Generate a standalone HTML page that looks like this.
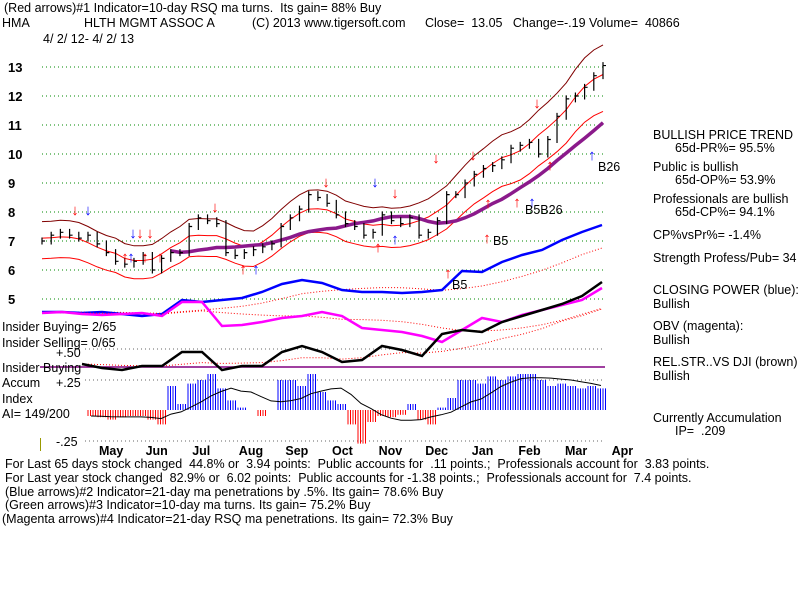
<!DOCTYPE html>
<html><head><meta charset="utf-8"><style>
body{margin:0;background:#fff;}
svg{display:block;font-family:"Liberation Sans",sans-serif;}
.t{font-size:12.5px;fill:#000;white-space:pre;}
</style></head><body>
<svg id="c" width="800" height="600" viewBox="0 0 800 600" xmlns="http://www.w3.org/2000/svg" xml:space="preserve">
<defs>
<pattern id="pb" width="2.5" height="4" patternUnits="userSpaceOnUse"><rect x="0" width="1" height="4" fill="#0000ff"/></pattern>
<pattern id="pr" width="2.5" height="4" patternUnits="userSpaceOnUse"><rect x="0" width="1" height="4" fill="#ff0000"/></pattern>
</defs>
<text class="t" x="4" y="12">(Red arrows)#1 Indicator=10-day RSQ ma turns.  Its gain= 88% Buy</text>
<text class="t" x="2" y="27">HMA</text>
<text class="t" x="84" y="27">HLTH MGMT ASSOC A</text>
<text class="t" x="252" y="27">(C) 2013 www.tigersoft.com</text>
<text class="t" x="425" y="27">Close=  13.05   Change=-.19 Volume=  40866</text>
<text class="t" x="43" y="43">4/ 2/ 12- 4/ 2/ 13</text>
<g id="grid"></g><g id="marks"></g>
<g>
<text class="t" x="653" y="139">BULLISH PRICE TREND</text>
<text class="t" x="675" y="152">65d-PR%= 95.5%</text>
<text class="t" x="653" y="171">Public is bullish</text>
<text class="t" x="675" y="184">65d-OP%= 53.9%</text>
<text class="t" x="653" y="203">Professionals are bullish</text>
<text class="t" x="675" y="216">65d-CP%= 94.1%</text>
<text class="t" x="653" y="239">CP%vsPr%= -1.4%</text>
<text class="t" x="653" y="262">Strength Profess/Pub= 34</text>
<text class="t" x="653" y="294">CLOSING POWER (blue):</text>
<text class="t" x="653" y="308">Bullish</text>
<text class="t" x="653" y="330">OBV (magenta):</text>
<text class="t" x="653" y="344">Bullish</text>
<text class="t" x="653" y="366">REL.STR..VS DJI (brown)</text>
<text class="t" x="653" y="380">Bullish</text>
<text class="t" x="653" y="422">Currently Accumulation</text>
<text class="t" x="675" y="435">IP=  .209</text>
</g>
<g>
<text class="t" x="2" y="331">Insider Buying= 2/65</text>
<text class="t" x="2" y="347">Insider Selling= 0/65</text>
<text class="t" x="56" y="357">+.50</text>
<text class="t" x="2" y="372">Insider Buying</text>
<text class="t" x="2" y="387">Accum</text>
<text class="t" x="56" y="387">+.25</text>
<text class="t" x="2" y="403">Index</text>
<text class="t" x="2" y="418">AI= 149/200</text>
<text class="t" x="56" y="446">-.25</text>
<rect x="40" y="438" width="1" height="13" fill="#999900"/>
</g>
<g>
<text class="t" x="5" y="468">For Last 65 days stock changed  44.8% or  3.94 points:  Public accounts for  .11 points.;  Professionals account for  3.83 points.</text>
<text class="t" x="5" y="482">For Last year stock changed  82.9% or  6.02 points:  Public accounts for -1.38 points.;  Professionals account for  7.4 points.</text>
<text class="t" x="5" y="496">(Blue arrows)#2 Indicator=21-day ma penetrations by .5%. Its gain= 78.6% Buy</text>
<text class="t" x="5" y="509">(Green arrows)#3 Indicator=10-day ma turns. Its gain= 75.2% Buy</text>
<text class="t" x="2" y="523">(Magenta arrows)#4 Indicator=21-day RSQ ma penetrations. Its gain= 72.3% Buy</text>
</g>
</svg>
<script>
const priceLevels=[13,12,11,10,9,8,7,6,5];
const months=["May","Jun","Jul","Aug","Sep","Oct","Nov","Dec","Jan","Feb","Mar","Apr"];
const closes=[7.0,7.2,7.3,7.2,7.1,7.2,6.9,6.6,6.3,6.2,6.3,6.5,6.0,6.4,6.6,6.6,7.5,7.8,7.7,7.6,6.6,6.5,6.6,6.7,6.8,6.9,7.5,7.8,8.1,8.6,8.5,8.3,7.9,7.6,7.5,7.2,7.3,7.9,7.7,7.6,7.8,7.2,7.3,7.7,8.6,8.6,9.0,9.3,9.5,9.6,9.8,10.2,10.3,10.4,10.0,10.5,11.3,11.9,12.0,12.3,12.7,13.05];
const cpVals=[18,18,17,18,16,14,16,30,28,30,32,38,46,50,47,40,38,38,37,38,40,59,58,68,75,80,90,98,105];
const obvVals=[37,38,36,35,36,37,34,48,48,24,25,28,32,34,38,34,22,20,18,14,8,20,32,28,35,40,45,50,62];
const rsVals=[36,32,30,34,34,48,48,30,34,34,48,54,48,38,40,54,50,44,66,70,68,78,84,90,96,104,118];
const aiVals=[-0.05,-0.06,-0.08,-0.06,-0.05,-0.05,-0.08,-0.12,0.2,0.05,0.22,0.25,0.3,0.18,0.08,0.02,0,-0.05,0,0.25,0.25,0.2,0.3,0.15,0.08,0.05,-0.12,-0.28,-0.1,-0.05,-0.06,-0.04,0.05,-0.08,-0.12,0.02,0.1,0.25,0.25,0.22,0.28,0.25,0.28,0.3,0.3,0.25,0.2,0.22,0.2,0.18,0.2,0.18];
const NS="http://www.w3.org/2000/svg";
const g=document.getElementById('grid'),m=document.getElementById('marks');
function el(t,a,p){const e=document.createElementNS(NS,t);for(const k in a)e.setAttribute(k,a[k]);(p||m).appendChild(e);return e;}
const X0=42,X1=605;
const yP=v=>67+(13-v)*29;
const xI=(i,n,a,b)=>a+(b-a)*i/(n-1);
const pts=(arr,fx,fy)=>arr.map((v,i)=>fx(i).toFixed(1)+","+fy(v).toFixed(1)).join(" ");
priceLevels.forEach(v=>{
 const l=el('line',{x1:X0,x2:X1,y1:yP(v),y2:yP(v),stroke:'#008800','stroke-dasharray':'1 3'},g);
 
 
 const t=el('text',{x:8,y:yP(v)+5,'font-size':13,'font-weight':'bold'},g);
 t.textContent=v;
 
 
});
[349,380,441].forEach(y=>{const l=el('line',{x1:85,x2:605,y1:y,y2:y,stroke:'#666','stroke-dasharray':'1 3'},g);
 
 });
const hl=el('line',{x1:40,x2:605,y1:367,y2:367,stroke:'#800080','stroke-width':1.5},g);


months.forEach((mo,i)=>{const t=el('text',{x:99+i*46.6,y:455,class:'t','font-weight':'bold'},g);t.textContent=mo;
 
 });
const n=closes.length,px=i=>xI(i,n,X0,603);
function ma(a,w,center){return a.map((_,i)=>{let s=0,c=0;for(let j=i-(center?w:2*w);j<=i+(center?w:0);j++){const k=Math.max(0,Math.min(a.length-1,j));s+=a[k];c++;}return s/c;});}
const mid=ma(closes,3,true),long=ma(closes,6,false);
[[1.08,'#800000','upper-band'],[1.0,'#ff0000','middle-band'],[0.9,'#ff0000','lower-band']].forEach(([f,c,nm])=>{
 const p=el('polyline',{points:pts(mid,px,v=>yP(v*f)),fill:'none',stroke:c,'stroke-width':1});
 
 
});
const lm=el('polyline',{points:pts(long.slice(14),i=>px(i+14),yP),fill:'none',stroke:'#8b1a8b','stroke-width':3.5});


closes.forEach((v,i)=>{
 const x=px(i),pv=i?closes[i-1]:v,hi=Math.max(v,pv)+0.12,lo=Math.min(v,pv)-0.12;
 const b=el('path',{d:`M${x} ${yP(hi)}V${yP(lo)}M${x} ${yP(v)}h3`,stroke:'#000','stroke-width':1.2});
 
 
});
function line(arr,x0,x1,fy,col,w,nm){
 const nn=arr.length,fx=i=>xI(i,nn,x0,x1);
 const d=el('polyline',{points:pts(ma(arr,3,false),fx,fy),fill:'none',stroke:'#ff0000','stroke-width':1,'stroke-dasharray':'1 2'});
 
 
 const p=el('polyline',{points:pts(arr,fx,fy),fill:'none',stroke:col,'stroke-width':w});
 
 
}
line(cpVals,42,602,v=>330-v,'#0000ff',2.5,'closing-power-line');
line(obvVals,42,602,v=>350-v,'#ff00ff',2.5,'obv-line');
line(rsVals,82,602,v=>400-v,'#000000',2.5,'rel-strength-line');
const yA=v=>410-v*120,na=aiVals.length;
aiVals.forEach((v,i)=>{
 const x=xI(i,na,86,596);
 const r=el('rect',{x:x,y:Math.min(yA(v),410),width:10,height:Math.abs(yA(v)-410),fill:v>=0?'url(#pb)':'url(#pr)'});
 
 
});
const ai=el('polyline',{points:pts(ma(aiVals,3,false),i=>xI(i,na,91,601),yA),fill:'none',stroke:'#000','stroke-width':1});


const arrows=[[75,215,'↓','#f00'],[88,215,'↓','#00f'],[133,238,'↓','#00f'],[140,238,'↓','#f00'],[150,238,'↓','#f00'],[125,262,'↑','#f00'],[131,262,'↑','#00f'],[145,262,'↑','#f00'],[160,262,'↑','#f00'],[215,212,'↓','#f00'],[243,274,'↑','#f00'],[256,274,'↑','#00f'],[326,187,'↓','#f00'],[375,187,'↓','#00f'],[395,198,'↓','#f00'],[378,252,'↑','#f00'],[395,244,'↑','#00f'],[436,163,'↓','#f00'],[473,160,'↓','#f00'],[488,208,'↑','#f00'],[487,243,'↑','#f00'],[537,108,'↓','#f00'],[550,170,'↑','#f00'],[592,160,'↑','#00f'],[517,207,'↑','#f00'],[532,207,'↑','#00f'],[448,278,'↑','#f00']];
arrows.forEach(([x,y,c,col])=>{const t=el('text',{x:x,y:y,fill:col,'font-size':15,'font-weight':'bold','text-anchor':'middle'});t.textContent=c;
 
 });
[[493,245,'B5'],[525,214,'B5B26'],[598,171,'B26'],[452,289,'B5']].forEach(([x,y,s])=>{const t=el('text',{x:x,y:y,class:'t'});t.textContent=s;
 
 });
</script>
</body></html>
